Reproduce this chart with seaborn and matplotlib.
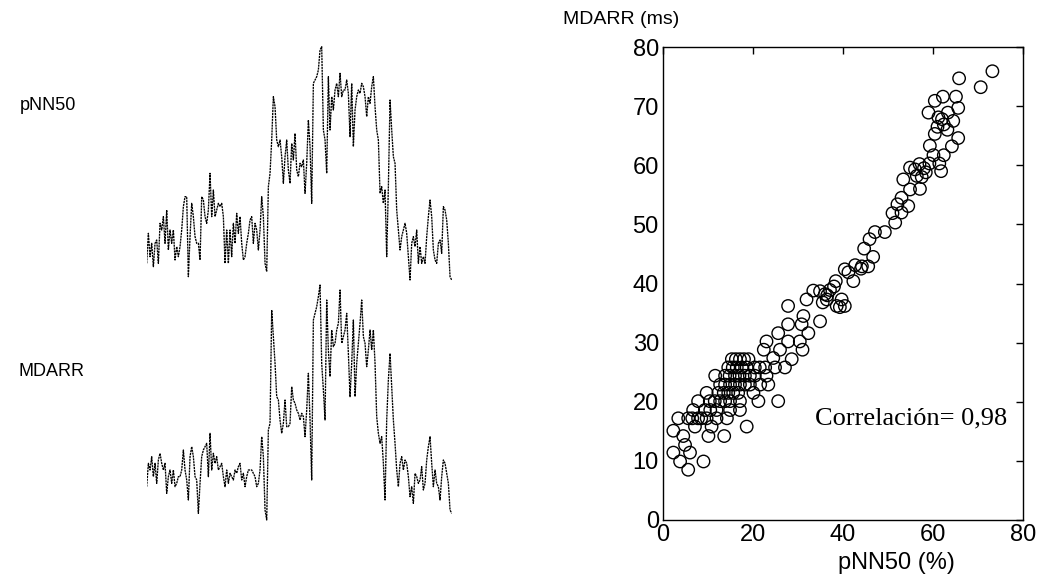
import numpy as np
import pandas as pd
import matplotlib
matplotlib.use("Agg")
import matplotlib.pyplot as plt
import seaborn as sns

# ---------------- data ----------------
pnn50_series = [6, 15, 8, 12, 5, 12, 13, 6, 18, 16, 20, 12, 22, 10, 16, 12, 16, 7, 11, 8,
                11, 16, 23, 26, 26, 2, 14, 24, 20, 14, 12, 12, 7, 26, 25, 20, 18, 22, 33, 20,
                28, 20, 22, 24, 23, 24, 20, 6, 16, 6, 16, 8, 18, 12, 21, 15, 20, 12, 7, 8,
                12, 15, 19, 20, 12, 18, 16, 10, 16, 26, 20, 6, 3.5, 29, 33, 43, 56, 53, 43, 41,
                43, 38, 30, 38, 43, 34, 30, 42, 37, 45, 34, 32, 36, 35, 37, 27, 36, 49, 41, 24,
                60, 61, 62, 64, 70, 71, 46, 43, 33, 62, 46, 56, 52, 58, 60, 56, 63, 56, 58, 58,
                61, 57, 44, 60, 41, 52, 56, 58, 57, 60, 59, 56, 50, 56, 54, 59, 62, 53, 46, 43,
                27, 29, 24, 28, 8, 29, 55, 46, 38, 36, 22, 16, 10, 14, 16, 18, 15, 8, 1, 12,
                14, 11, 16, 6, 11, 6, 8, 6, 14, 20, 25, 20, 10, 7, 6, 12, 13, 9, 23, 22,
                19, 12, 2, 1]

mdarr_series = [11, 18, 16, 20, 14, 18, 12, 19, 21, 18, 16, 18, 9, 14, 16, 12, 16, 11, 12, 14,
                14, 16, 22, 16, 13, 7, 20, 23, 20, 14, 13, 3, 12, 20, 22, 23, 24, 14, 27, 16,
                21, 18, 20, 16, 17, 18, 14, 11, 16, 12, 15, 14, 13, 16, 15, 17, 18, 13, 15, 11,
                14, 16, 16, 16, 15, 14, 11, 12, 16, 26, 20, 4, 1, 28, 30, 64, 56, 48, 38, 37,
                31, 27, 30, 37, 29, 29, 30, 41, 37, 36, 34, 33, 31, 33, 32, 26, 34, 45, 31, 13,
                61, 63, 65, 68, 71.5, 48, 40, 31, 67, 52, 44, 58, 53, 54, 58, 60, 70, 54, 56, 58,
                63, 51, 38, 48, 61, 38, 48, 54, 60, 67, 56, 54, 47, 52, 58, 52, 58, 48, 32, 27,
                24, 26, 18, 7, 31, 43, 51, 41, 31, 24, 16, 11, 18, 20, 16, 19, 18, 14, 8, 11,
                6, 15, 14, 12, 13, 17, 10, 12, 19, 23, 26, 18, 11, 16, 12, 11, 7, 14, 19, 18,
                15, 12, 4, 3]

scatter_pnn50 = [73.2, 65.8, 70.6, 62.2, 65.1, 60.4, 65.6, 59.0, 61.2, 63.3, 64.5, 62.4, 63.2,
                 60.4, 65.6, 59.3, 64.2, 60.1, 62.4, 61.4, 59.2, 57.0, 54.9, 56.0, 58.4, 56.4,
                 53.4, 57.1, 54.9, 53.0, 52.1, 54.5, 51.0, 53.0, 51.6, 49.3, 47.1, 45.9, 44.7,
                 46.7, 45.6, 44.2, 42.7, 41.2, 42.3, 40.4, 38.4, 37.1, 33.4, 34.9, 31.9, 36.4,
                 39.7, 27.8, 38.6, 40.4, 34.9, 39.3, 31.2, 27.8, 30.8, 32.3, 25.6, 23.0, 27.8,
                 30.4, 22.4, 26.0, 31.0, 28.6, 24.5, 17.1, 15.3, 19.0,
                 14.5, 16.4, 18.6, 20.4, 22.7, 24.9, 27.1,
                 11.6, 13.8, 16.0, 18.2, 20.4, 23.0,
                 12.7, 14.9, 17.1, 19.3, 21.6, 23.4,
                 9.7, 12.3, 14.5, 16.7, 20.1,
                 7.8, 10.4, 12.7, 14.9, 17.1, 21.2, 25.6,
                 6.7, 9.3, 11.9, 14.9, 17.1,
                 3.4, 5.6, 7.8, 9.7, 11.9, 14.2,
                 7.1, 10.8, 18.6,
                 4.5, 10.1, 13.6,
                 2.3, 4.9, 2.3, 6.0, 3.8, 9.0, 5.6,
                 36.5, 35.5, 44.0, 58.0, 57.5, 61.0, 62.0, 61.8, 36.0, 38.0,
                 15.5, 17.5, 21.5, 14.8, 17.0, 19.3, 13.8, 16.0, 18.2, 13.5, 15.6, 11.5, 13.8,
                 8.5, 6.5, 10.5, 18.0, 16.2]

scatter_mdarr = [75.9, 74.7, 73.2, 71.6, 71.6, 70.9, 69.7, 68.9, 68.1, 68.9, 67.5, 66.9, 66.0,
                 65.3, 64.6, 63.3, 63.2, 61.7, 61.7, 60.3, 60.3, 60.2, 59.6, 59.3, 58.8, 58.2,
                 57.6, 56.0, 55.9, 54.5, 53.4, 53.1, 51.9, 52.0, 50.3, 48.7, 48.7, 47.5, 45.9,
                 44.5, 42.9, 42.9, 43.1, 41.9, 40.4, 42.4, 40.4, 38.9, 38.8, 38.7, 37.3, 37.3,
                 37.3, 36.2, 36.2, 36.2, 33.6, 36.0, 34.5, 33.1, 33.1, 31.6, 31.6, 30.2, 30.2,
                 30.2, 28.8, 28.8, 28.8, 27.2, 27.4, 27.2, 27.2, 27.2,
                 25.8, 25.8, 25.8, 25.8, 25.8, 25.8, 25.8,
                 24.4, 24.4, 24.4, 24.4, 24.4, 24.4,
                 22.9, 22.9, 22.9, 22.9, 22.9, 22.9,
                 21.5, 21.5, 21.5, 21.5, 21.5,
                 20.1, 20.1, 20.1, 20.1, 20.1, 20.1, 20.1,
                 18.6, 18.6, 18.6, 18.6, 18.6,
                 17.2, 17.2, 17.2, 17.2, 17.2, 17.2,
                 15.8, 15.8, 15.8,
                 14.2, 14.2, 14.2,
                 15.1, 12.7, 11.4, 11.4, 9.9, 9.9, 8.5,
                 38.0, 36.8, 42.5, 59.5, 58.0, 66.5, 67.8, 59.0, 38.2, 39.5,
                 25.8, 25.8, 25.8, 24.4, 24.4, 24.4, 22.9, 22.9, 22.9, 21.5, 21.5, 20.1, 20.1,
                 17.2, 17.2, 18.6, 27.2, 27.2]

x_ticks = [0, 20, 40, 60, 80]
y_ticks = [0, 10, 20, 30, 40, 50, 60, 70, 80]
correlation_text = "Correlación= 0,98"

# ---------------- figure ----------------
sns.set_style("white")
plt.rcParams["font.family"] = ["Liberation Sans", "DejaVu Sans"]
plt.rcParams["text.color"] = "black"
plt.rcParams["xtick.color"] = "black"
plt.rcParams["ytick.color"] = "black"

W, H = 1043, 576
fig = plt.figure(figsize=(W / 100, H / 100), dpi=100)

def frac_axes(x0, y0, x1, y1):
    return fig.add_axes([x0 / W, 1 - y1 / H, (x1 - x0) / W, (y1 - y0) / H])

line_kw = dict(color="black", linewidth=0.95, linestyle=(0, (1.6, 0.6)))

# top series
ax1 = frac_axes(146.7, 30, 451.7, 290)
df1 = pd.DataFrame({"t": np.arange(len(pnn50_series)), "v": pnn50_series})
sns.lineplot(data=df1, x="t", y="v", ax=ax1, **line_kw)
ax1.set_xlim(0, len(pnn50_series) - 1)
ax1.set_ylim(-2, 76)
ax1.axis("off")

# bottom series
ax2 = frac_axes(146.7, 270, 451.7, 530)
df2 = pd.DataFrame({"t": np.arange(len(mdarr_series)), "v": mdarr_series})
sns.lineplot(data=df2, x="t", y="v", ax=ax2, **line_kw)
ax2.set_xlim(0, len(mdarr_series) - 1)
ax2.set_ylim(-2, 76)
ax2.axis("off")

fig.text(20 / W, 1 - 105 / H, "pNN50", fontsize=13, ha="left", va="center", color="black")
fig.text(18 / W, 1 - 372 / H, "MDARR", fontsize=13, ha="left", va="center", color="black")

# scatter
ax3 = frac_axes(663, 47, 1023, 520)
df3 = pd.DataFrame({"pnn50": scatter_pnn50, "mdarr": scatter_mdarr})
sns.scatterplot(data=df3, x="pnn50", y="mdarr", ax=ax3, marker="o", s=80,
                facecolor="none", edgecolor="black", linewidth=1.0)
pts = ax3.collections[0]
pts.set_facecolor("none")
pts.set_edgecolor("black")
ax3.set_xlim(0, 80)
ax3.set_ylim(0, 80)
ax3.set_xticks(x_ticks)
ax3.set_yticks(y_ticks)
ax3.set_xlabel("")
ax3.set_ylabel("")
ax3.tick_params(direction="in", top=True, right=True, length=5, width=1,
                labelsize=17, colors="black", labelcolor="black", pad=3)
for sp in ax3.spines.values():
    sp.set_color("black")
    sp.set_linewidth(1.0)
    sp.set_visible(True)

fig.text(896 / W, 1 - 563 / H, "pNN50 (%)", fontsize=17, ha="center", va="center", color="black")
fig.text(563 / W, 1 - 20 / H, "MDARR (ms)", fontsize=14, ha="left", va="center", color="black")
ax3.text(33.8, 16.1, correlation_text, fontsize=19, ha="left", va="baseline", color="black",
         family=["Liberation Serif", "DejaVu Serif"])

fig.savefig("out.png", dpi=100)
